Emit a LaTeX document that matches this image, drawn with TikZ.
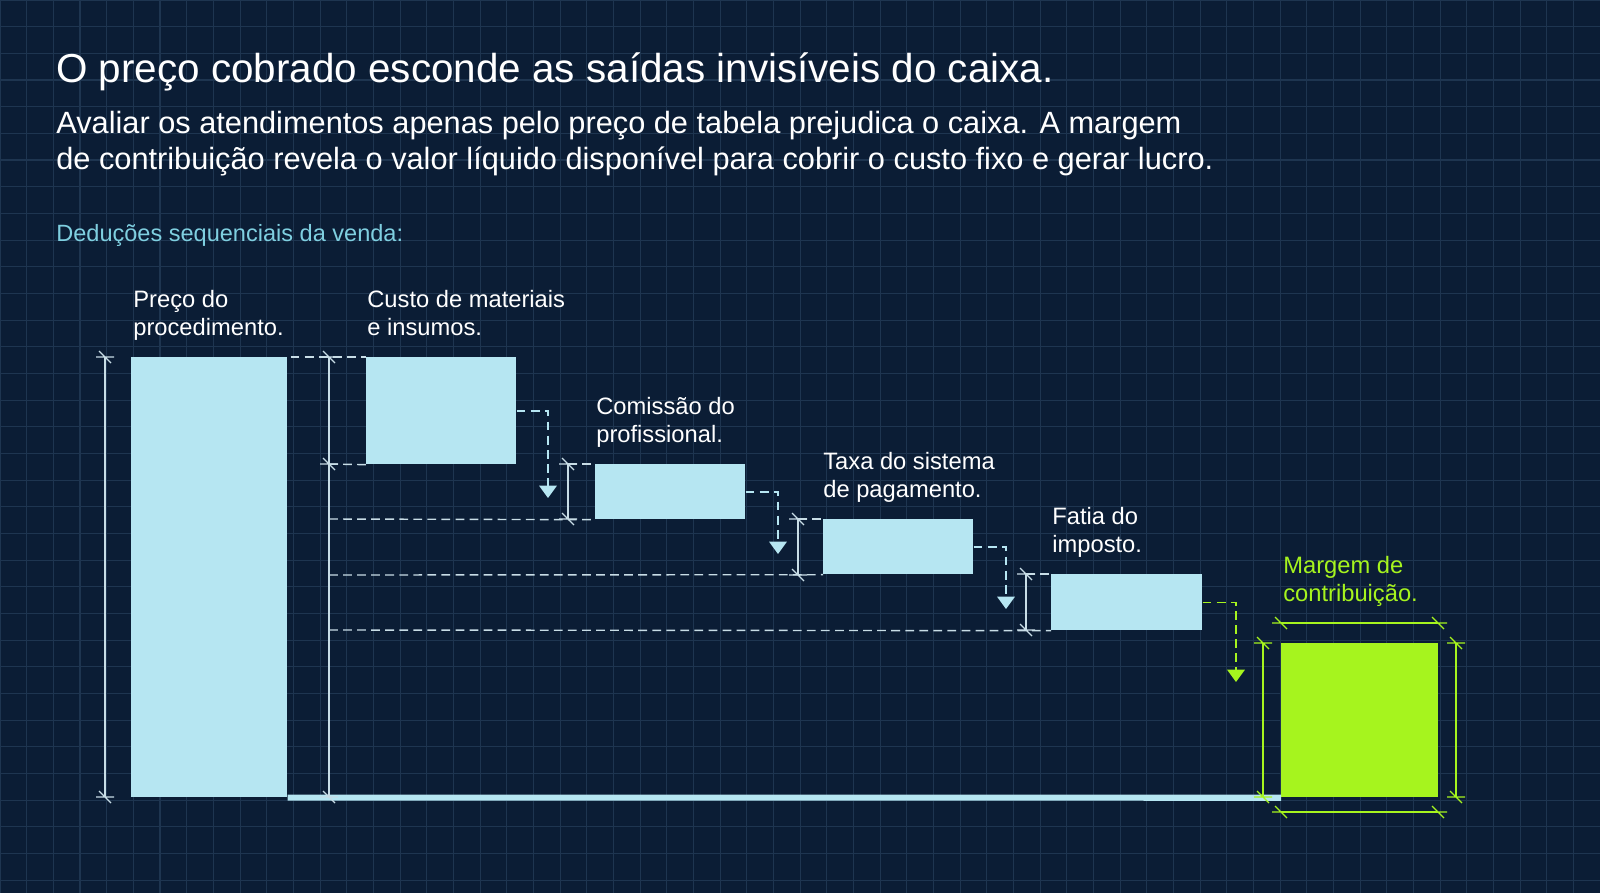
\documentclass[tikz,border=0pt]{standalone}
\usepackage{fontspec}
\setmainfont{Liberation Sans}
\usetikzlibrary{arrows.meta}
\definecolor{bg}{HTML}{0B1D35}
\definecolor{gridc}{HTML}{1E3550}
\definecolor{lb}{HTML}{B6E6F2}
\definecolor{gr}{HTML}{A6F41E}
\definecolor{teal}{HTML}{7FCFE0}
\definecolor{dimc}{HTML}{C8DDE6}
\newcommand\dtick[2]{\draw[#1,line width=0.7pt] (#2)++(-9,0)--++(18,0) (#2)++(-6,-6)--++(12,12);}
\begin{document}
\begin{tikzpicture}[x=0.02cm,y=-0.02cm,
  box/.style={fill=lb,draw=none,anchor=north west,inner sep=0pt},
  lbl/.style={anchor=north west,inner sep=0pt,text=white,font=\fontsize{13.5}{15.9}\selectfont,align=left},
  dsh/.style={dimc,line width=0.8pt,dash pattern=on 5pt off 3pt},
  dim/.style={dimc,line width=0.7pt},
  darr/.style={dsh,-{Triangle[width=10pt,length=7pt]}}]
\fill[bg] (0,0) rectangle (1600,893);
\useasboundingbox (0,0) rectangle (1600,893);
\foreach \i in {0,...,60} {\draw[gridc,line width=0.6pt] (\i*26.67,0)--(\i*26.67,893);}
\foreach \j in {0,...,34} {\draw[gridc,line width=0.6pt] (0,\j*26.67)--(1600,\j*26.67);}
% titles
\node[anchor=west,inner sep=0pt,text=white,font=\fontsize{23}{27}\selectfont] (t) at (56,72) {O preço cobrado esconde as saídas invisíveis do caixa.};
\node[anchor=north west,inner sep=0pt,text=white,align=left,font=\fontsize{17.5}{20.5}\selectfont] (s) at (56,111) {Avaliar os atendimentos apenas pelo preço de tabela prejudica o caixa. A margem\\de contribuição revela o valor líquido disponível para cobrir o custo fixo e gerar lucro.};
\node[anchor=west,text=teal,font=\fontsize{13.4}{15}\selectfont,inner sep=0pt] (d) at (56,235) {Deduções sequenciais da venda:};
% boxes
\node[box,minimum width=3.12cm,minimum height=8.8cm] (p) at (131,357) {};
\node[box,minimum width=3.0cm,minimum height=2.14cm] (c1) at (366,357) {};
\node[box,minimum width=3.0cm,minimum height=1.1cm] (c2) at (595,464) {};
\node[box,minimum width=3.0cm,minimum height=1.1cm] (c3) at (823,519) {};
\node[box,minimum width=3.02cm,minimum height=1.12cm] (c4) at (1051,574) {};
\node[box,fill=gr,minimum width=3.14cm,minimum height=3.08cm] (m) at (1281,643) {};
% labels
\node[lbl] (lp) at (133,290) {Preço do\\procedimento.};
\node[lbl] (l1) at (367,290) {Custo de materiais\\e insumos.};
\node[lbl] (l2) at (596,397) {Comissão do\\profissional.};
\node[lbl] (l3) at (823,452) {Taxa do sistema\\de pagamento.};
\node[lbl] (l4) at (1052,507) {Fatia do\\imposto.};
\node[lbl,text=gr] (lm) at (1283,556) {Margem de\\contribuição.};
% base line
\draw[lb,line width=3.5pt] (p.south east) -- (m.south west);
% dimension lines
\draw[dim] (105,357)--(105,797); \dtick{dimc}{105,357}\dtick{dimc}{105,797}
\draw[dim] (329,357)--(329,797); \dtick{dimc}{329,357}\dtick{dimc}{329,464}\dtick{dimc}{329,797}
\draw[dim] (568,464)--(568,519); \dtick{dimc}{568,464}\dtick{dimc}{568,519}
\draw[dim] (798,519)--(798,575); \dtick{dimc}{798,519}\dtick{dimc}{798,575}
\draw[dim] (1026,574)--(1026,630); \dtick{dimc}{1026,574}\dtick{dimc}{1026,630}
% dashed guides
\draw[dsh] (p.north east)++(3,0) -- (c1.north west);
\draw[dsh] (329,464) -- (c1.south west);
\draw[dsh] (329,519) -- (c2.south west);
\draw[dsh] (329,575) -- (c3.south west);
\draw[dsh] (329,630) -- (c4.south west);
\draw[dsh] (568,464) -- (c2.north west);
\draw[dsh] (798,519) -- (c3.north west);
\draw[dsh] (1026,574) -- (c4.north west);
% arrows
\coordinate (a1) at (548,498); \coordinate (a2) at (778,554);
\coordinate (a3) at (1006,609); \coordinate (a4) at (1236,682);
\draw[darr,lb] (c1.east) -| (a1);
\draw[darr,lb] (c2.east) -| (a2);
\draw[darr,lb] (c3.east) -| (a3);
\draw[darr,gr] (c4.east) -| (a4);
% green dims
\draw[gr,line width=0.8pt] (1281,623)--(1438,623); \dtick{gr}{1281,623}\dtick{gr}{1438,623}
\draw[gr,line width=0.8pt] (1281,812)--(1438,812); \dtick{gr}{1281,812}\dtick{gr}{1438,812}
\draw[gr,line width=0.8pt] (1263,643)--(1263,797); \dtick{gr}{1263,643}\dtick{gr}{1263,797}
\draw[gr,line width=0.8pt] (1456,643)--(1456,797); \dtick{gr}{1456,643}\dtick{gr}{1456,797}
\end{tikzpicture}
\end{document}
